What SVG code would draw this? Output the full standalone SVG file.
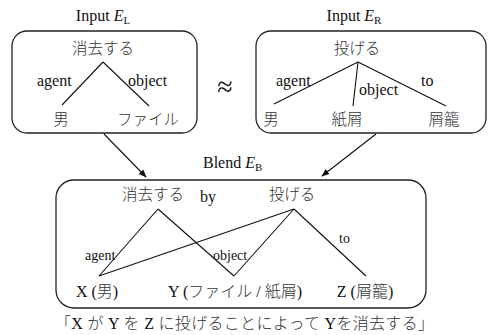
<svg xmlns="http://www.w3.org/2000/svg" width="489" height="335" viewBox="0 0 489 335">
<style>
.box{fill:none;stroke:#222;stroke-width:1.3}
.ln{stroke:#111;stroke-width:1.1;fill:none}
.lat{font-family:"Liberation Serif","Times New Roman",serif;fill:#111}
.ja{font-family:"Noto Sans CJK JP","Noto Sans",sans-serif;fill:#333;font-weight:300}
.mix{font-family:"Liberation Serif","Noto Sans CJK JP",serif;fill:#111}
.jt{font-family:"Noto Sans CJK JP","Noto Sans",sans-serif;fill:#333;font-weight:300}
</style>
<defs>
<marker id="ah" viewBox="0 0 10 10" refX="9" refY="5" markerWidth="8" markerHeight="8" orient="auto" markerUnits="userSpaceOnUse">
<path d="M0,1 L10,5 L0,9 z" fill="#111"/>
</marker>
</defs>
<g id="inputL">
<text class="lat" x="103" y="21" font-size="16" text-anchor="middle">Input <tspan font-style="italic">E</tspan><tspan font-size="11" dy="3">L</tspan></text>
<rect class="box" x="12" y="31" width="185" height="102" rx="15"/>
<text class="ja" x="103" y="54" font-size="15.5" text-anchor="middle">消去する</text>
<line class="ln" x1="103" y1="62" x2="62" y2="105"/>
<line class="ln" x1="103" y1="62" x2="149" y2="106"/>
<text class="lat" x="37" y="86" font-size="16">agent</text>
<text class="lat" x="128" y="86" font-size="16">object</text>
<text class="ja" x="61" y="125" font-size="15.5" text-anchor="middle">男</text>
<text class="ja" x="148" y="125" font-size="15.5" text-anchor="middle">ファイル</text>
</g>
<g id="approx">
<text class="lat" x="225" y="96" font-size="28" text-anchor="middle">≈</text>
</g>
<g id="inputR">
<text class="lat" x="354" y="21" font-size="16" text-anchor="middle">Input <tspan font-style="italic">E</tspan><tspan font-size="11" dy="3">R</tspan></text>
<rect class="box" x="256" y="31" width="230" height="102" rx="15"/>
<text class="ja" x="357" y="54" font-size="15.5" text-anchor="middle">投げる</text>
<line class="ln" x1="358" y1="62" x2="274" y2="104"/>
<line class="ln" x1="358" y1="62" x2="353" y2="106"/>
<line class="ln" x1="358" y1="62" x2="446" y2="106"/>
<text class="lat" x="276" y="86" font-size="16">agent</text>
<text class="lat" x="359" y="95" font-size="16">object</text>
<text class="lat" x="421" y="86" font-size="16">to</text>
<text class="ja" x="271" y="125" font-size="15.5" text-anchor="middle">男</text>
<text class="ja" x="347" y="125" font-size="15.5" text-anchor="middle">紙屑</text>
<text class="ja" x="444" y="125" font-size="15.5" text-anchor="middle">屑籠</text>
</g>
<g id="blend">
<text class="lat" x="203" y="168" font-size="16">Blend <tspan font-style="italic">E</tspan><tspan font-size="11" dy="3">B</tspan></text>
<rect class="box" x="56" y="180" width="370" height="128" rx="18"/>
<text class="ja" x="153" y="200" font-size="15.5" text-anchor="middle">消去する</text>
<text class="lat" x="208" y="202" font-size="16" text-anchor="middle">by</text>
<text class="ja" x="292" y="200" font-size="15.5" text-anchor="middle">投げる</text>
<line class="ln" x1="158" y1="209" x2="99" y2="276"/>
<line class="ln" x1="158" y1="209" x2="234" y2="276"/>
<line class="ln" x1="294" y1="209" x2="99" y2="276"/>
<line class="ln" x1="294" y1="209" x2="234" y2="276"/>
<line class="ln" x1="294" y1="209" x2="366" y2="276"/>
<text class="lat" x="85" y="260" font-size="14">agent</text>
<text class="lat" x="213" y="260" font-size="14">object</text>
<text class="lat" x="339" y="243" font-size="14">to</text>
<text class="mix" x="97" y="297" font-size="16" text-anchor="middle">X (<tspan class="jt">男</tspan>)</text>
<text class="mix" x="235" y="297" font-size="16" text-anchor="middle">Y (<tspan class="jt">ファイル</tspan> / <tspan class="jt">紙屑</tspan>)</text>
<text class="mix" x="365" y="297" font-size="16" text-anchor="middle">Z (<tspan class="jt">屑籠</tspan>)</text>
</g>
<g id="connectors">
<line class="ln" x1="104" y1="134" x2="146" y2="177" marker-end="url(#ah)"/>
<line class="ln" x1="376" y1="134" x2="322" y2="176" marker-end="url(#ah)"/>
</g>
<g id="caption">
<text class="mix" x="55" y="329" font-size="16" textLength="379" lengthAdjust="spacing"><tspan class="jt">「</tspan>X <tspan class="jt">が</tspan> Y <tspan class="jt">を</tspan> Z <tspan class="jt">に投げることによって</tspan> Y<tspan class="jt">を消去する」</tspan></text>
</g>
</svg>
